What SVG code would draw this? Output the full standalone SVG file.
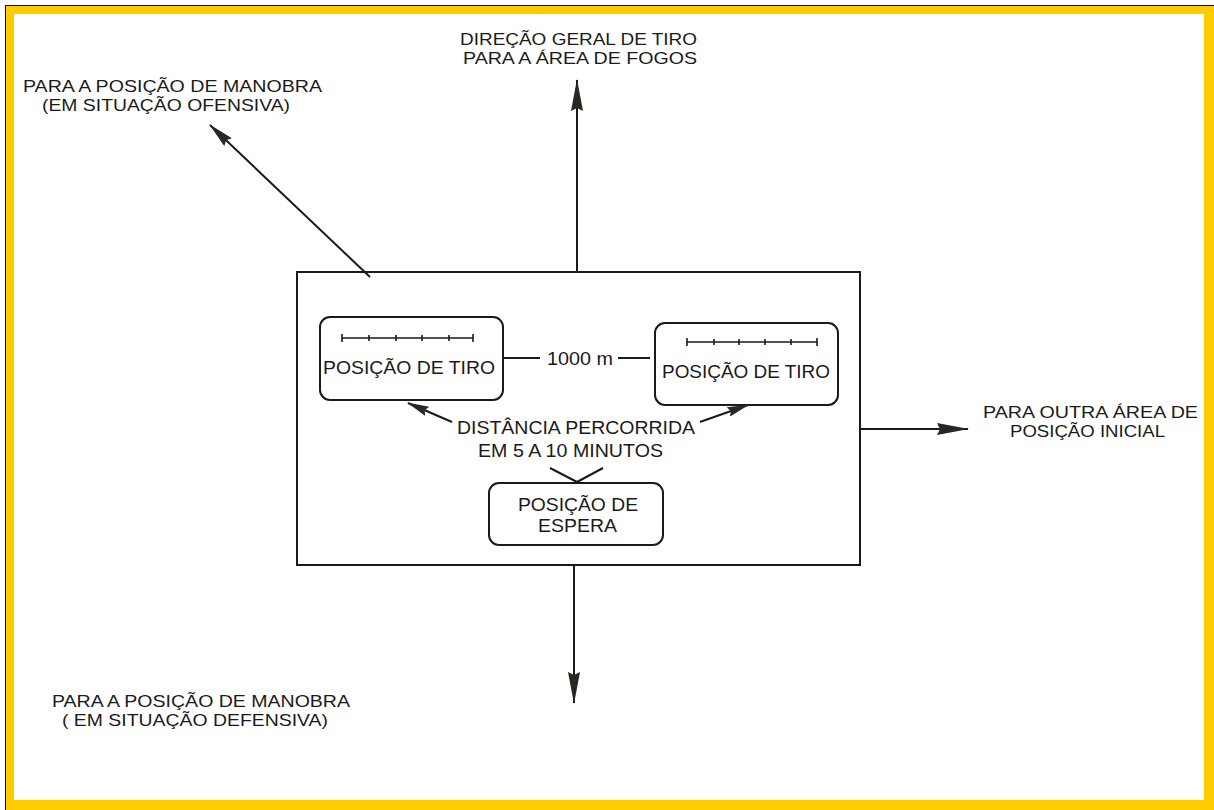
<svg xmlns="http://www.w3.org/2000/svg" width="1214" height="810" viewBox="0 0 1214 810">
<style>
.t{font-family:"Liberation Sans",Arial,sans-serif;font-size:16.5px;fill:#1a1a1a}
.b{font-size:18.5px}
.box{fill:none;stroke:#1a1a1a;stroke-width:2}
.ln{fill:none;stroke:#1a1a1a;stroke-width:2}
.sc{fill:none;stroke:#1a1a1a;stroke-width:1.6}
</style>
<defs>
<marker id="big" viewBox="0 0 32 12" refX="31" refY="6" markerWidth="32" markerHeight="12" markerUnits="userSpaceOnUse" orient="auto">
<path d="M0,0 L32,6 L0,12 L3,6 z" fill="#2a2622"/>
</marker>
<marker id="med" viewBox="0 0 26 11" refX="25" refY="5.5" markerWidth="26" markerHeight="11" markerUnits="userSpaceOnUse" orient="auto">
<path d="M0,0 L26,5.5 L0,11 L3,5.5 z" fill="#2a2622"/>
</marker>
<marker id="sm" viewBox="0 0 22 10" refX="21" refY="5" markerWidth="22" markerHeight="10" markerUnits="userSpaceOnUse" orient="auto">
<path d="M0,0 L22,5 L0,10 L3,5 z" fill="#2a2622"/>
</marker>
</defs>
<g id="frame">
<rect x="5" y="5" width="1209" height="805" fill="#111"/>
<rect x="6" y="6" width="1208" height="804" fill="#ffcc00"/>
<rect x="14" y="14" width="1190" height="786" fill="#ffffff"/>
</g>
<g id="area">
<rect class="box" x="297" y="272" width="563" height="293"/>
</g>
<g id="tiro-esq">
<rect class="box" x="320" y="317" width="183" height="83" rx="10"/>
<path class="sc" d="M342,338 H473 M342,334 V342 M369,335 V341 M396,335 V341 M422,335 V341 M449,335 V341 M473,334 V342"/>
<text class="t b" x="323" y="374" textLength="172" lengthAdjust="spacingAndGlyphs">POSIÇÃO DE TIRO</text>
</g>
<g id="tiro-dir">
<rect class="box" x="655" y="323" width="183" height="82" rx="10"/>
<path class="sc" d="M687,342 H817 M687,338 V346 M714,339 V345 M739,339 V345 M765,339 V345 M791,339 V345 M817,338 V346"/>
<text class="t b" x="662" y="378" textLength="168" lengthAdjust="spacingAndGlyphs">POSIÇÃO DE TIRO</text>
</g>
<g id="espera">
<rect class="box" x="489" y="483" width="174" height="62" rx="10"/>
<text class="t b" x="518" y="511" textLength="120" lengthAdjust="spacingAndGlyphs">POSIÇÃO DE</text>
<text class="t b" x="538" y="532" textLength="79" lengthAdjust="spacingAndGlyphs">ESPERA</text>
</g>
<g id="labels">
<text class="t" x="460" y="45" textLength="237" lengthAdjust="spacingAndGlyphs">DIREÇÃO GERAL DE TIRO</text>
<text class="t" x="463" y="64" textLength="234" lengthAdjust="spacingAndGlyphs">PARA A ÁREA DE FOGOS</text>
<text class="t" x="23" y="92" textLength="299" lengthAdjust="spacingAndGlyphs">PARA A POSIÇÃO DE MANOBRA</text>
<text class="t" x="42" y="111" textLength="248" lengthAdjust="spacingAndGlyphs">(EM SITUAÇÃO OFENSIVA)</text>
<text class="t" x="983" y="418" textLength="215" lengthAdjust="spacingAndGlyphs">PARA OUTRA ÁREA DE</text>
<text class="t" x="1010" y="437" textLength="155" lengthAdjust="spacingAndGlyphs">POSIÇÃO INICIAL</text>
<text class="t" x="52" y="707" textLength="298" lengthAdjust="spacingAndGlyphs">PARA A POSIÇÃO DE MANOBRA</text>
<text class="t" x="62" y="726" textLength="266" lengthAdjust="spacingAndGlyphs">( EM SITUAÇÃO DEFENSIVA)</text>
<text class="t b" x="547" y="365" textLength="66" lengthAdjust="spacingAndGlyphs">1000 m</text>
<text class="t b" x="457" y="434" textLength="238" lengthAdjust="spacingAndGlyphs">DISTÂNCIA PERCORRIDA</text>
<text class="t b" x="478" y="457" textLength="185" lengthAdjust="spacingAndGlyphs">EM 5 A 10 MINUTOS</text>
</g>
<g id="connectors">
<line class="ln" x1="577" y1="272" x2="577" y2="80" marker-end="url(#big)"/>
<line class="ln" x1="574" y1="565" x2="574" y2="703" marker-end="url(#big)"/>
<line class="ln" x1="860" y1="429" x2="968" y2="429" marker-end="url(#big)"/>
<line class="ln" x1="370" y1="277" x2="210" y2="125" marker-end="url(#med)"/>
<line class="ln" x1="452" y1="422" x2="408" y2="403" marker-end="url(#sm)"/>
<line class="ln" x1="700" y1="422" x2="748" y2="405" marker-end="url(#sm)"/>
<line class="ln" x1="503" y1="358" x2="540" y2="358"/>
<line class="ln" x1="618" y1="358" x2="650" y2="358"/>
<polyline class="ln" points="550,468 577,482 603,468"/>
</g>
</svg>
